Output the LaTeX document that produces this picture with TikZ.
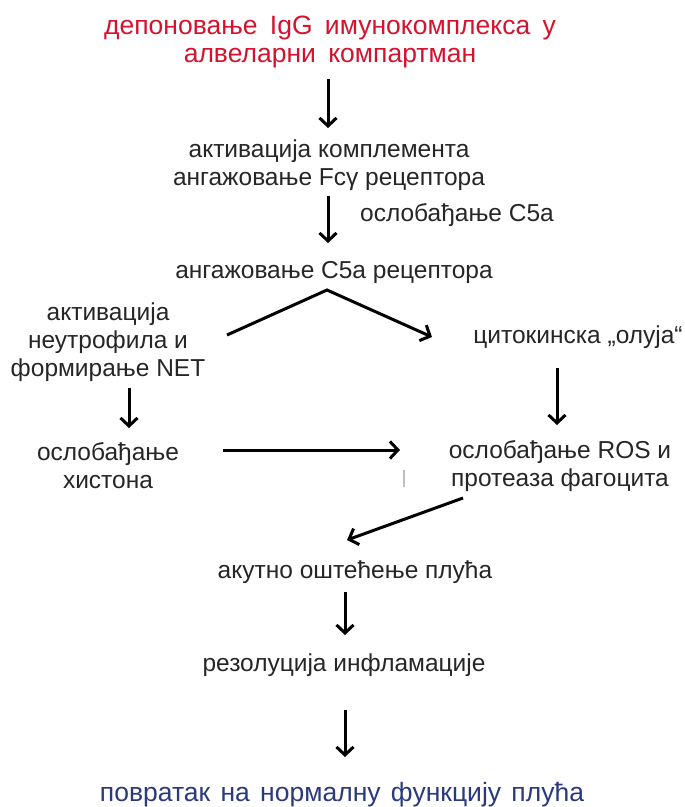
\documentclass[tikz,border=0pt]{standalone}
\usepackage{fontspec}
\setmainfont{Liberation Sans}
\usetikzlibrary{arrows.meta,calc}
\definecolor{tred}{HTML}{D4142E}
\definecolor{tblue}{HTML}{2B3A7E}
\newcommand{\wg}{\hspace{5pt}\ }
\begin{document}
\begin{tikzpicture}[x=1pt,y=-1pt,
  txt/.style={inner sep=0pt,align=center,font=\fontsize{24.5}{28}\selectfont,text=black!85},
  ctxt/.style={inner sep=0pt,align=center,font=\fontsize{26.5}{28}\selectfont},
  arr/.style={-{Straight Barb[length=8pt,width=17pt,line width=3pt]},line width=3pt,black}]
\useasboundingbox[fill=white] (0,0) rectangle (685,807);
\node[ctxt,text=tred] (a) at (330,42) {депоновање\wg IgG\wg имунокомплекса\wg у\\алвеларни\wg компартман};
\node[txt] (b) at (329,165) {активација комплемента\\ангажовање Fcγ рецептора};
\node[txt] (lbl) at (457,215) {ослобађање C5a};
\node[txt] (c) at (334,272) {ангажовање C5a рецептора};
\node[txt] (d) at (108,342) {активација\\неутрофила и\\формирање NET};
\node[txt] (e) at (578,337) {цитокинска „олуја“};
\node[txt] (f) at (108,466) {ослобађање\\хистона};
\node[txt] (g) at (560,466) {ослобађање ROS и\\протеаза фагоцита};
\node[txt] (h) at (355,572) {акутно оштећење плућа};
\node[txt] (i) at (344,665) {резолуција инфламације};
\node[ctxt,text=tblue] (j) at (342,795) {повратак\hspace{3pt} на\hspace{3pt} нормалну\hspace{3pt} функцију\hspace{3pt} плућа};
\coordinate (x1) at (328,0);
\coordinate (xl) at (129,0);
\coordinate (xr) at (557,0);
\coordinate (xm) at (345,0);
\coordinate (v) at (327,290);
\draw[arr] ($(a.center -| x1)+(0,37)$) -- ($(b.center -| x1)+(0,-37)$);
\draw[arr] ($(b.center -| x1)+(0,31)$) -- ($(c.center -| x1)+(0,-29)$);
\draw[arr,line join=miter] ($(d.center)+(119,-7)$) -- (v) -- ($(e.center)+(-146,0)$);
\draw[arr] ($(d.center -| xl)+(0,46)$) -- ($(f.center -| xl)+(0,-38)$);
\draw[arr] ($(e.center -| xr)+(0,31)$) -- ($(g.center -| xr)+(0,-41)$);
\draw[arr] ($(f.center)+(115,-16)$) -- ($(g.center)+(-160,-16)$);
\draw[arr] ($(g.center)+(-97,32)$) -- ($(h.center)+(-8,-32)$);
\draw[arr] ($(h.center -| xm)+(0,20)$) -- ($(i.center -| xm)+(0,-30)$);
\draw[arr] ($(i.center -| xm)+(0,45)$) -- ($(j.center -| xm)+(0,-38)$);
\coordinate (tk) at (404,470);
\draw[black!25,line width=1.5pt] (tk) -- ++(0,17);
\end{tikzpicture}
\end{document}
